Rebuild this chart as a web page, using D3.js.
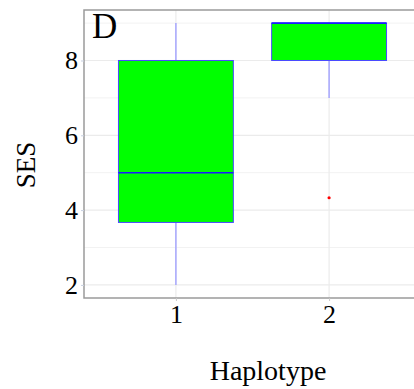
<!DOCTYPE html>
<html>
<head>
<meta charset="utf-8">
<script src="https://cdn.jsdelivr.net/npm/d3@7/dist/d3.min.js"></script>
<style>
  html, body { margin: 0; padding: 0; background: #fff; }
  svg { display: block; }
  text { font-family: "Liberation Serif", "DejaVu Serif", serif; fill: #000; }
</style>
</head>
<body>
<svg id="chart" width="414" height="389"></svg>
<script>
// Haplotype groups and their box-plot summaries of SES
const haplotypes = ["1", "2"];
const whiskerLow = [2, 7];
const lowerQuartile = [3.67, 8];
const medians = [5, 9];
const upperQuartile = [8, 9];
const whiskerHigh = [9, 9];
const outliers = [{ group: "2", value: 4.33 }];
const yTicks = [2, 4, 6, 8];
const yMinorTicks = [3, 5, 7, 9];

const serif = '"Liberation Serif", "Times New Roman", serif';
const svg = d3.select("#chart");
const panel = { left: 84, top: 10, right: 421, bottom: 298 };

// discrete x axis with 0.6 units of padding on each side
const x = d3.scaleLinear()
  .domain([0.4, 2.6])
  .range([panel.left, panel.right]);
const xPos = g => x(haplotypes.indexOf(g) + 1);

const y = d3.scaleLinear()
  .domain([1.65, 9.35])
  .range([panel.bottom, panel.top]);

const boxWidth = x(1.375) - x(0.625);

// gridlines
const grid = svg.append("g");
grid.selectAll("line.minor").data(yMinorTicks).join("line")
  .attr("x1", panel.left).attr("x2", panel.right)
  .attr("y1", d => y(d)).attr("y2", d => y(d))
  .attr("stroke", "#f2f2f2").attr("stroke-width", 1);
grid.selectAll("line.major").data(yTicks).join("line")
  .attr("x1", panel.left).attr("x2", panel.right)
  .attr("y1", d => y(d)).attr("y2", d => y(d))
  .attr("stroke", "#ebebeb").attr("stroke-width", 1.2);
grid.selectAll("line.vert").data(haplotypes).join("line")
  .attr("x1", d => xPos(d)).attr("x2", d => xPos(d))
  .attr("y1", panel.top).attr("y2", panel.bottom)
  .attr("stroke", "#ebebeb").attr("stroke-width", 1.2);

// boxes
const boxes = svg.append("g").selectAll("g").data(haplotypes).join("g");
boxes.append("line")
  .attr("x1", d => xPos(d)).attr("x2", d => xPos(d))
  .attr("y1", (d, i) => y(whiskerLow[i])).attr("y2", (d, i) => y(lowerQuartile[i]))
  .attr("stroke", "#9a9aff").attr("stroke-width", 1.3);
boxes.append("line")
  .attr("x1", d => xPos(d)).attr("x2", d => xPos(d))
  .attr("y1", (d, i) => y(upperQuartile[i])).attr("y2", (d, i) => y(whiskerHigh[i]))
  .attr("stroke", "#9a9aff").attr("stroke-width", 1.3);
boxes.append("rect")
  .attr("x", d => xPos(d) - boxWidth / 2)
  .attr("width", boxWidth)
  .attr("y", (d, i) => y(upperQuartile[i]))
  .attr("height", (d, i) => y(lowerQuartile[i]) - y(upperQuartile[i]))
  .attr("fill", "#00ff00")
  .attr("stroke", "#4a4aff").attr("stroke-width", 1);
boxes.append("line")
  .attr("x1", d => xPos(d) - boxWidth / 2).attr("x2", d => xPos(d) + boxWidth / 2)
  .attr("y1", (d, i) => y(medians[i])).attr("y2", (d, i) => y(medians[i]))
  .attr("stroke", "#1a1aff").attr("stroke-width", 1.6);

// outliers
svg.append("g").selectAll("circle").data(outliers).join("circle")
  .attr("cx", d => xPos(d.group))
  .attr("cy", d => y(d.value))
  .attr("r", 1.6)
  .attr("fill", "#ff0000");

// panel border
svg.append("rect")
  .attr("x", panel.left).attr("y", panel.top)
  .attr("width", panel.right - panel.left)
  .attr("height", panel.bottom - panel.top)
  .attr("fill", "none").attr("stroke", "#9a9a9a").attr("stroke-width", 1.5);

// axes
const yAxis = svg.append("g")
  .attr("transform", `translate(${panel.left},0)`)
  .call(d3.axisLeft(y).tickValues(yTicks).tickFormat(d3.format("d")).tickSize(3).tickPadding(3));
yAxis.attr("font-family", serif);
yAxis.select(".domain").remove();
yAxis.selectAll(".tick line").attr("stroke", "#c8d0e0");
yAxis.selectAll(".tick text")
  .attr("font-family", serif)
  .style("font-family", serif)
  .style("font-size", "26px").attr("fill", "#000");

const xAxis = svg.append("g")
  .attr("transform", `translate(0,${panel.bottom})`)
  .call(d3.axisBottom(x).tickValues([1, 2]).tickFormat(d => haplotypes[d - 1]).tickSize(3).tickPadding(4));
xAxis.attr("font-family", serif);
xAxis.select(".domain").remove();
xAxis.selectAll(".tick line").attr("stroke", "#c8c8c8");
xAxis.selectAll(".tick text")
  .attr("font-family", serif)
  .style("font-family", serif)
  .style("font-size", "26px").attr("fill", "#000");

// titles
svg.append("text")
  .attr("x", 268).attr("y", 380)
  .attr("text-anchor", "middle")
  .style("font-family", serif)
  .style("font-size", "28px")
  .text("Haplotype");

svg.append("text")
  .attr("transform", "translate(35,165) rotate(-90)")
  .attr("text-anchor", "middle")
  .style("font-family", serif)
  .style("font-size", "27px")
  .text("SES");

svg.append("text")
  .attr("x", 92).attr("y", 38)
  .style("font-family", serif)
  .style("font-size", "35px")
  .text("D");
</script>
</body>
</html>
